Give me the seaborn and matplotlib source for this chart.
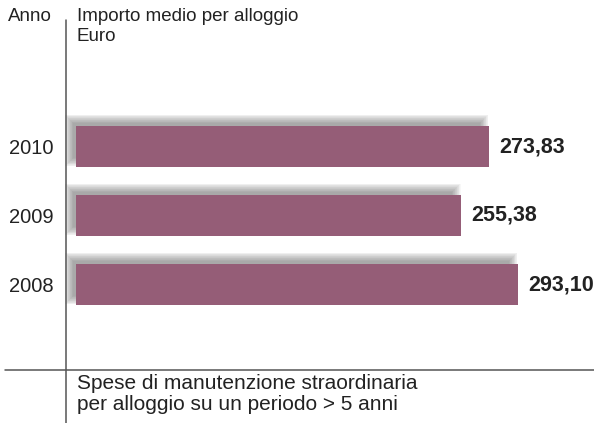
import matplotlib
matplotlib.use("Agg")
import matplotlib.pyplot as plt
from matplotlib.patches import Rectangle
from matplotlib.lines import Line2D
import seaborn as sns
import pandas as pd

years = ["2010", "2009", "2008"]
values = [273.83, 255.38, 293.10]
value_labels = ["273,83", "255,38", "293,10"]
header_left = "Anno"
header_right = "Importo medio per alloggio\nEuro"
footer = "Spese di manutenzione straordinaria\nper alloggio su un periodo > 5 anni"

bar_color = "#955d77"
text_color = "#222222"
line_color = "#555555"

sns.set_style("white")
plt.rcParams["font.family"] = ["Liberation Sans", "DejaVu Sans"]

W, H = 594, 423
fig = plt.figure(figsize=(W / 100, H / 100), dpi=100)
fig.patch.set_facecolor("white")

x0 = 76
px_per_unit = 1.508
row_px = 69
first_center = 146.5

ax = fig.add_axes([x0 / W, 0, (W - x0) / W, 1])
df = pd.DataFrame({"year": years, "value": values})
sns.barplot(data=df, y="year", x="value", order=years, color=bar_color,
            saturation=1, width=41 / row_px, ax=ax, zorder=3,
            linewidth=0, edgecolor="none")
ax.set_xlim(0, (W - x0) / px_per_unit)
top = -first_center / row_px
bottom = top + H / row_px
ax.set_ylim(bottom, top)
for s in ax.spines.values():
    s.set_visible(False)
ax.set_xticks([])
ax.set_xlabel("")
ax.set_ylabel("")
ax.tick_params(axis="y", length=0, pad=(x0 - 54) * 0.72, labelsize=14.5, labelcolor=text_color)
ax.patch.set_alpha(0)

# soft blurred shadows derived from each bar
ux = 1 / px_per_unit
uy = 1 / row_px
for p in list(ax.patches):
    bx, by = p.get_x(), p.get_y()
    bw, bh = p.get_width(), p.get_height()
    ox, oy = -6 * ux, -6 * uy
    steps = 14
    for k in range(steps):
        g = -3 + k * 0.65
        ax.add_patch(Rectangle((bx + ox - g * ux, by + oy - g * uy),
                               bw + 2 * g * ux, bh + 2 * g * uy,
                               facecolor="#505050", edgecolor="none",
                               alpha=0.045, zorder=2, clip_on=False))

ax.bar_label(ax.containers[0], labels=value_labels, padding=7.5,
             fontsize=15.5, fontweight="bold", color=text_color)

# frame lines
fig.add_artist(Line2D([66 / W, 66 / W], [0, 1 - 20 / H], color=line_color, lw=1.1, zorder=5))
fig.add_artist(Line2D([5 / W, 1], [1 - 370 / H, 1 - 370 / H], color=line_color, lw=1.1))

fig.text(8 / W, 1 - 8 / H, header_left, ha="left", va="top", fontsize=13.5,
         color=text_color)
fig.text(77 / W, 1 - 8 / H, header_right, ha="left", va="top", fontsize=13.5,
         color=text_color, linespacing=1.25)
fig.text(77 / W, 1 - 374 / H, footer, ha="left", va="top", fontsize=15,
         color=text_color, linespacing=1.1)

fig.savefig("out.png", dpi=100, facecolor="white")
